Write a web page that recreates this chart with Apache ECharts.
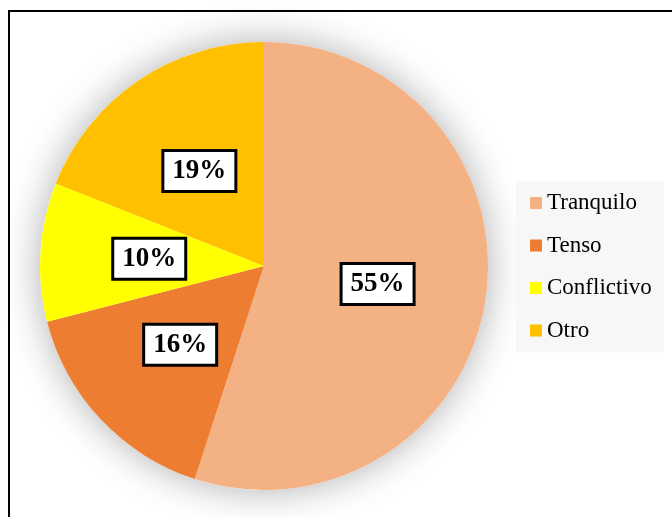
<!DOCTYPE html>
<html>
<head>
<meta charset="utf-8">
<script src="https://cdn.jsdelivr.net/npm/echarts@6/dist/echarts.min.js"></script>
<style>
  html, body { margin: 0; padding: 0; background: #fff; }
  #chart { width: 672px; height: 517px; }
</style>
</head>
<body>
<div id="chart"></div>
<script>
  // categories and shares (%)
  var categories = ['Tranquilo', 'Tenso', 'Conflictivo', 'Otro'];
  var shares = [55, 16, 10, 19];
  var colors = ['#F4B183', '#ED7D31', '#FFFF00', '#FFC000'];

  var serif = '"Liberation Serif", "Times New Roman", serif';

  var chart = echarts.init(document.getElementById('chart'));
  chart.setOption({
    animation: false,
    color: colors,
    graphic: [{
      type: 'rect',
      shape: { x: 9, y: 11, width: 700, height: 600 },
      style: { fill: 'none', stroke: '#000', lineWidth: 2 },
      silent: true
    }],
    legend: {
      orient: 'vertical',
      left: 516,
      top: 181,
      padding: [10, 12, 10, 14],
      backgroundColor: '#f7f7f7',
      itemWidth: 12,
      itemHeight: 12,
      itemGap: 18.5,
      icon: 'rect',
      textStyle: {
        fontFamily: serif,
        fontSize: 23,
        lineHeight: 24,
        color: '#000'
      },
      data: categories
    },
    series: [{
      // soft shadow behind the whole pie
      type: 'pie',
      z: 1,
      silent: true,
      center: [264, 266],
      radius: 224,
      label: { show: false },
      labelLine: { show: false },
      itemStyle: {
        color: '#fff',
        shadowBlur: 38,
        shadowColor: 'rgba(0, 0, 0, 0.32)'
      },
      data: [{ name: 'sombra', value: 1 }]
    }, {
      type: 'pie',
      z: 2,
      center: [264, 266],
      radius: 224,
      startAngle: 90,
      clockwise: true,
      label: {
        position: 'inside',
        formatter: '{d}%',
        fontFamily: serif,
        fontWeight: 'bold',
        fontSize: 27,
        color: '#000',
        backgroundColor: '#fff',
        borderColor: '#000',
        borderWidth: 3,
        padding: [7, 8, 4, 8]
      },
      labelLine: { show: false },
      emphasis: { disabled: true },
      data: categories.map(function (name, i) {
        return { name: name, value: shares[i] };
      })
    }]
  });
</script>
</body>
</html>
